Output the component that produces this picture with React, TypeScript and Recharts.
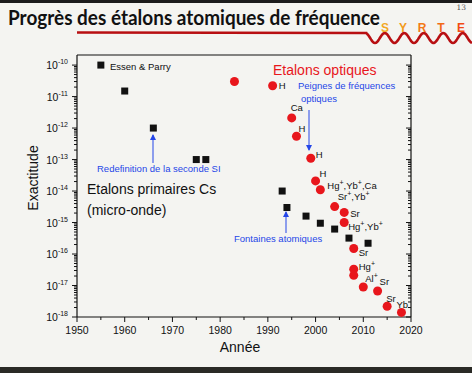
import { ScatterChart, Scatter, XAxis, YAxis } from 'recharts';

// Cs microwave standards (black squares)
const csYears = [1955, 1960, 1966, 1975, 1977, 1993, 1994, 1998, 2001, 2004, 2007, 2011];
const csValues = [1e-10, 1.5e-11, 1e-12, 1e-13, 1e-13, 1e-14, 3e-15, 1.6e-15, 9.5e-16, 6.2e-16, 3.2e-16, 2.2e-16];

// optical standards (red dots)
const opticalYears = [1983, 1991, 1995, 1996, 1999, 2000, 2001, 2004, 2006, 2006, 2008, 2008, 2008, 2010, 2013, 2015, 2018];
const opticalValues = [3e-11, 2.2e-11, 2.1e-12, 5.5e-13, 1.1e-13, 2.1e-14, 1.1e-14, 3.2e-15, 2.1e-15, 1e-15, 1.5e-16, 3.3e-17, 2.1e-17, 9e-18, 6.7e-18, 2.2e-18, 1.4e-18];
const opticalLabels = ['', 'H', 'Ca', 'H', 'H', 'H', 'Hg+,Yb+,Ca', 'Sr+,Yb+', 'Sr', 'Hg+,Yb+', 'Sr', 'Hg+', '', 'Al+', 'Sr', 'Sr', 'Yb'];

const xTicks = [1950, 1955, 1960, 1965, 1970, 1975, 1980, 1985, 1990, 1995, 2000, 2005, 2010, 2015, 2020];
const yDecades = [1e-18, 1e-17, 1e-16, 1e-15, 1e-14, 1e-13, 1e-12, 1e-11, 1e-10];

// where each element name sits next to its dot (px)
const labelOffsets: [number, number][] = [
  [0, 0], [6, 0], [-1, -10], [2, -8], [5, -4], [4, -7], [7, -4], [3, -10], [6, 1],
  [4, 4], [5, 4], [5, -3], [0, 0], [2, -8], [2, -9], [-1, -8], [-5, -8],
];

const csData = csYears.map((year, i) => ({ year, value: csValues[i] }));
const opticalData = opticalYears.map((year, i) => ({ year, value: opticalValues[i], label: opticalLabels[i], idx: i }));

const yTicks: number[] = [];
yDecades.forEach((d) => {
  yTicks.push(d);
  if (d < 1e-10) for (let m = 2; m <= 9; m++) yTicks.push(d * m);
});

const isMajorY = (v: number) => Math.abs(Math.log10(v) - Math.round(Math.log10(v))) < 1e-6;
const isMajorX = (v: number) => v % 10 === 0;

const FONT = '"Liberation Sans", Arial, sans-serif';
const BLUE = '#2446e8';
const RED = '#e8161c';

function ion(label: string) {
  const parts = label.split('+');
  const out: any[] = [];
  parts.forEach((p, i) => {
    if (p) out.push(<tspan key={'t' + i} dy={i > 0 ? 4 : 0}>{p}</tspan>);
    if (i < parts.length - 1)
      out.push(<tspan key={'s' + i} dy={-4} fontSize={7}>+</tspan>);
  });
  return out;
}

const LeftTick = (p: any) => {
  const v = p.payload.value;
  const major = isMajorY(v);
  const e = Math.round(Math.log10(v));
  return (
    <g>
      <line x1={p.x} x2={p.x - (major ? 5 : 3)} y1={p.y} y2={p.y} stroke="#111" strokeWidth={1} />
      {major && (
        <text x={p.x - 9} y={p.y + 4} textAnchor="end" fontSize={10.5} fontFamily={FONT} fill="#111">
          10<tspan dy={-5} fontSize={7}>{'-' + Math.abs(e)}</tspan>
        </text>
      )}
    </g>
  );
};

const RightTick = (p: any) => {
  const major = isMajorY(p.payload.value);
  return <line x1={p.x} x2={p.x - (major ? 5 : 3)} y1={p.y} y2={p.y} stroke="#111" strokeWidth={1} />;
};

const BottomTick = (p: any) => {
  const v = p.payload.value;
  const major = isMajorX(v);
  return (
    <g>
      <line x1={p.x} x2={p.x} y1={p.y} y2={p.y + (major ? 5 : 3)} stroke="#111" strokeWidth={1} />
      {major && (
        <text x={p.x} y={p.y + 17} textAnchor="middle" fontSize={10.5} fontFamily={FONT} fill="#111">
          {v}
        </text>
      )}
    </g>
  );
};

const TopTick = (p: any) => {
  const major = isMajorX(p.payload.value);
  return <line x1={p.x} x2={p.x} y1={p.y} y2={p.y + (major ? 5 : 3)} stroke="#111" strokeWidth={1} />;
};

const CsSquare = (p: any) => <rect x={p.cx - 3.5} y={p.cy - 3.5} width={7} height={7} fill="#111" />;

const OpticalDot = (p: any) => {
  const row = p.payload;
  const [dx, dy] = labelOffsets[row.idx] || [0, 0];
  return (
    <g>
      <circle cx={p.cx} cy={p.cy} r={4.5} fill={RED} />
      {row.label && (
        <text x={p.cx + dx} y={p.cy + dy + 3.5} fontSize={9.5} fontFamily={FONT} fill="#111">
          {ion(row.label)}
        </text>
      )}
    </g>
  );
};

// SYRTE wave decoration
const wave = (() => {
  let d = 'M77,32.5 L366,33';
  for (let x = 366; x <= 472; x += 1) {
    const y = 38 + 5 * Math.cos((2 * Math.PI * (x - 375)) / 19.5);
    d += ` L${x},${y.toFixed(2)}`;
  }
  return d;
})();

const syrte = [
  { ch: 'S', x: 385, c: '#f2a824' },
  { ch: 'Y', x: 403, c: '#f29a1a' },
  { ch: 'R', x: 422, c: '#f27a18' },
  { ch: 'T', x: 441, c: '#f26a16' },
  { ch: 'E', x: 461, c: '#f24a14' },
];

const axisStyle = { stroke: '#111', strokeWidth: 1.2 };

export default function App() {
  return (
    <div style={{ position: 'absolute', left: 0, top: 0, width: 472, height: 373, background: '#f4f4f1', overflow: 'hidden' }}>
      <ScatterChart width={472} height={373} margin={{ top: 45, right: 51, bottom: 26, left: 47 }}>
        <XAxis
          dataKey="year"
          type="number"
          domain={[1950, 2020]}
          ticks={xTicks}
          interval={0}
          height={30}
          tickSize={0}
          tickMargin={0}
          tick={<BottomTick />}
          axisLine={axisStyle}
          allowDataOverflow
        />
        <XAxis
          xAxisId="top"
          orientation="top"
          type="number"
          domain={[1950, 2020]}
          ticks={xTicks}
          interval={0}
          height={10}
          tickSize={0}
          tickMargin={0}
          tick={<TopTick />}
          axisLine={axisStyle}
          allowDataOverflow
        />
        <YAxis
          dataKey="value"
          type="number"
          scale="log"
          domain={[1e-18, 2.09e-10]}
          ticks={yTicks}
          interval={0}
          width={30}
          tickSize={0}
          tickMargin={0}
          tick={<LeftTick />}
          axisLine={axisStyle}
          allowDataOverflow
        />
        <YAxis
          yAxisId="right"
          orientation="right"
          type="number"
          scale="log"
          domain={[1e-18, 2.09e-10]}
          ticks={yTicks}
          interval={0}
          width={10}
          tickSize={0}
          tickMargin={0}
          tick={<RightTick />}
          axisLine={axisStyle}
          allowDataOverflow
        />
        <Scatter data={csData} shape={<CsSquare />} isAnimationActive={false} />
        <Scatter data={opticalData} shape={<OpticalDot />} isAnimationActive={false} />
      </ScatterChart>

      <svg width={472} height={373} style={{ position: 'absolute', left: 0, top: 0, pointerEvents: 'none' }}>
        <defs>
          <marker id="ah" markerWidth="6" markerHeight="6" refX="5" refY="3" orient="auto" markerUnits="userSpaceOnUse">
            <path d="M0,0 L6,3 L0,6 Z" fill={BLUE} />
          </marker>
        </defs>
        <rect x={0} y={0} width={472} height={3} fill="#1c1c1c" />
        <rect x={0} y={367} width={472} height={6} fill="#2a2a26" />

        <text x={8} y={25} fontSize={20} fontWeight={700} fontFamily="Lato, 'Open Sans', sans-serif" fill="#111" textLength={372} lengthAdjust="spacingAndGlyphs">
          Progrès des étalons atomiques de fréquence
        </text>
        <path d={wave} fill="none" stroke="#b80f12" strokeWidth={2.6} />
        {syrte.map((s) => (
          <text key={s.ch} x={s.x} y={32} textAnchor="middle" fontSize={12} fontWeight={700} fontFamily={FONT} fill={s.c}>
            {s.ch}
          </text>
        ))}
        <text x={466} y={10} textAnchor="end" fontSize={7.5} fontFamily="'DejaVu Serif', serif" fill="#555">13</text>

        <text x={33} y={178} transform="rotate(-90 33 178)" textAnchor="middle" dominantBaseline="central" fontSize={14} fontFamily={FONT} fill="#111">
          Exactitude
        </text>
        <text x={240} y={352} textAnchor="middle" fontSize={14} fontFamily={FONT} fill="#111">Année</text>

        <text x={110} y={70} fontSize={9.5} fontFamily={FONT} fill="#111">Essen &amp; Parry</text>
        <text x={97} y={172} fontSize={9.5} fontFamily={FONT} fill={BLUE}>Redefinition de la seconde SI</text>
        <line x1={153} y1={163} x2={153} y2={135} stroke={BLUE} strokeWidth={1} markerEnd="url(#ah)" />

        <text x={87} y={194} fontSize={14} fontFamily={FONT} fill="#111">Etalons primaires Cs</text>
        <text x={87} y={215} fontSize={14} fontFamily={FONT} fill="#111">(micro-onde)</text>

        <text x={273} y={75} fontSize={14} fontFamily={FONT} fill={RED}>Etalons optiques</text>
        <text x={298} y={89} fontSize={9.5} fontFamily={FONT} fill={BLUE}>Peignes de fréquences</text>
        <text x={301} y={102} fontSize={9.5} fontFamily={FONT} fill={BLUE}>optiques</text>
        <line x1={309} y1={110} x2={309} y2={150} stroke={BLUE} strokeWidth={1} markerEnd="url(#ah)" />

        <text x={234} y={242} fontSize={9.5} fontFamily={FONT} fill={BLUE}>Fontaines atomiques</text>
        <line x1={286} y1={233} x2={286} y2={212} stroke={BLUE} strokeWidth={1} markerEnd="url(#ah)" />
      </svg>
    </div>
  );
}
